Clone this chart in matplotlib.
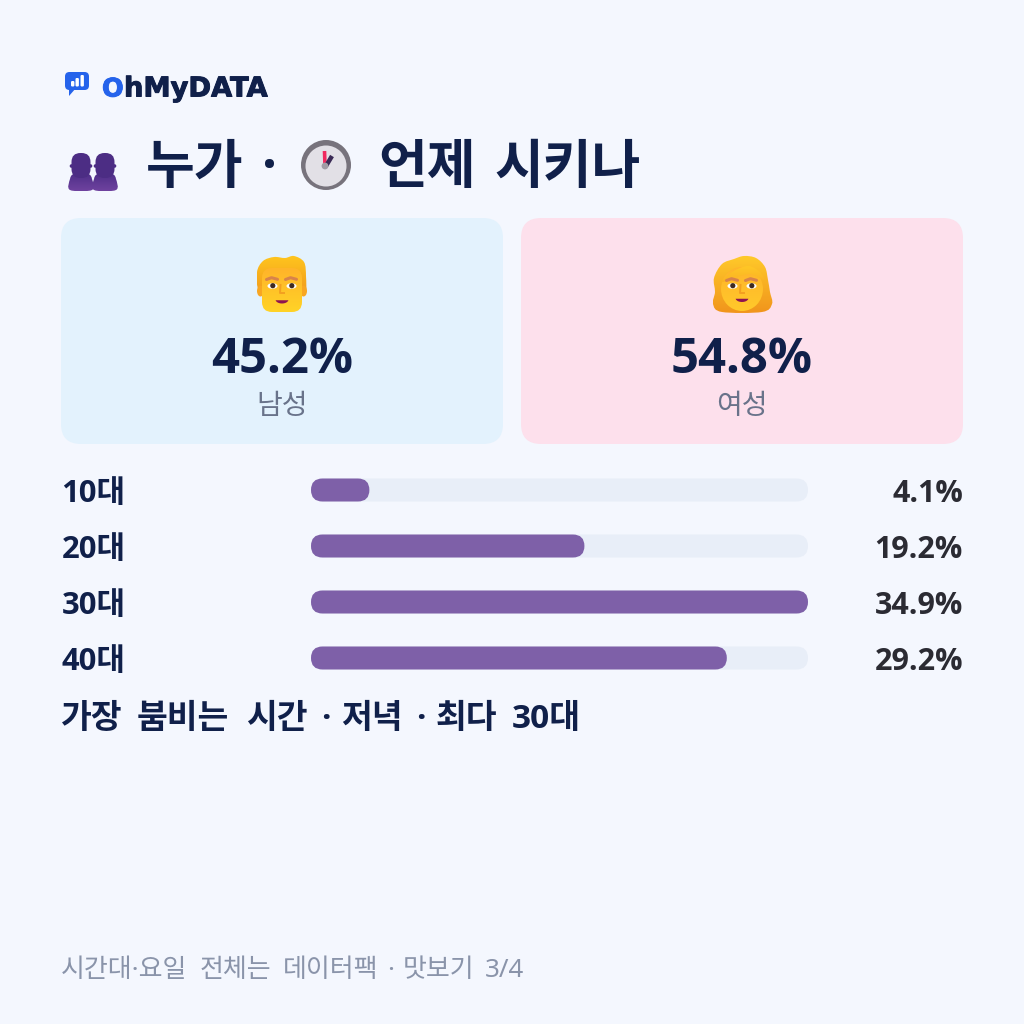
import numpy as np
import matplotlib
matplotlib.use("Agg")
import matplotlib.pyplot as plt
import matplotlib.patheffects as pe
from matplotlib.patches import FancyBboxPatch, Circle, Ellipse, Polygon, PathPatch
from matplotlib.path import Path

plain_family = ['Noto Sans', 'Noto Sans CJK KR', 'DejaVu Sans']
bold_family = ['Open Sans', 'Noto Sans CJK KR', 'DejaVu Sans']
plt.rcParams['font.family'] = plain_family

# Content
brand_accent = "O"
brand_rest = "hMyDATA"
title_words = ["누가", "·", "언제", "시키나"]
gender_labels = ["남성", "여성"]
gender_values = [45.2, 54.8]
age_labels = ["10대", "20대", "30대", "40대"]
age_values = [4.1, 19.2, 34.9, 29.2]
summary_words = ["가장", "붐비는", "시간", "·", "저녁", "·", "최다", "30대"]
footer_words = ["시간대·요일", "전체는", "데이터팩", "·", "맛보기", "3/4"]

# Word-by-word layout, since the heading font has wide word spacing
title_x = [146, 262, 378, 494]
summary_x = [61, 137, 246, 321, 341, 416, 436, 512]
footer_x = [61, 200, 283, 387, 403, 485]

NAVY = "#10204a"
BG = "#f4f7fe"
PX = 0.72  # points per pixel at dpi=100

fig = plt.figure(figsize=(10.24, 10.24), dpi=100, facecolor=BG)
ax = fig.add_axes([0, 0, 1, 1])
ax.set_xlim(0, 1024)
ax.set_ylim(1024, 0)
ax.axis("off")


def rounded(x, y, w, h, r, color, z=1):
    r = min(r, h / 2, w / 2)
    p = FancyBboxPatch((x + r, y + r), w - 2 * r, h - 2 * r,
                       boxstyle=f"round,pad={r},rounding_size={r}",
                       fc=color, ec="none", zorder=z)
    ax.add_patch(p)
    return p


def gradient_fill(patch, top, bottom, extent, z):
    # Vertical gradient clipped to a patch
    a = np.array(matplotlib.colors.to_rgb(top))
    b = np.array(matplotlib.colors.to_rgb(bottom))
    t = np.linspace(0, 1, 64)[:, None, None]
    img = a[None, None, :] * (1 - t) + b[None, None, :] * t
    im = ax.imshow(img, extent=extent, aspect="auto", zorder=z, interpolation="bilinear")
    patch.set(fc="none", ec="none", zorder=z)
    ax.add_patch(patch)
    im.set_clip_path(patch)
    ax.set_xlim(0, 1024)
    ax.set_ylim(1024, 0)


def blob(points, top, bottom, z):
    # Smooth closed outline through the given points
    pts = np.array(points, float)
    verts = [pts[0]]
    codes = [Path.MOVETO]
    n = len(pts)
    for i in range(n):
        p0, p1, p2, p3 = pts[i - 1], pts[i], pts[(i + 1) % n], pts[(i + 2) % n]
        verts += [p1 + (p2 - p0) / 6, p2 - (p3 - p1) / 6, p2]
        codes += [Path.CURVE4] * 3
    patch = PathPatch(Path(verts, codes))
    bb = patch.get_path().get_extents()
    gradient_fill(patch, top, bottom, (bb.x0, bb.x1, bb.y1, bb.y0), z)


def face_details(cx, eye_y, brow_y, mouth_y, eye_dx, z=8):
    # Eyes, brows, nose and mouth shared by both faces
    for side in (-1, 1):
        ex = cx + side * eye_dx
        ax.add_patch(Ellipse((ex, eye_y), 10, 5.5, fc="white", ec="none", zorder=z))
        ax.add_patch(Circle((ex + 0.3, eye_y - 0.3), 2.6, fc="#3d2a22", ec="none", zorder=z + 1))
        ax.plot([ex - 6, ex - 1, ex + 5], [brow_y + 1, brow_y - 0.8, brow_y + 0.8],
                color="#d8834a", lw=2.2, solid_capstyle="round", zorder=z)
    ax.plot([cx - 1.5, cx - 2, cx + 2], [eye_y - 1, eye_y + 7, eye_y + 7],
            color="#f3a020", lw=1.4, zorder=z)
    t = np.linspace(0.06 * np.pi, 0.94 * np.pi, 20)
    ax.fill(cx + 6.5 * np.cos(t), mouth_y - 1.5 + 4 * np.sin(t), color="#8e1450", lw=0, zorder=z)


def words(items, xs, y, **kw):
    for w, x in zip(items, xs):
        ax.text(x, y, w, va="baseline", **kw)


# Brand mark
rounded(65, 72, 24, 18, 4.5, "#2563eb", 3)
ax.add_patch(Polygon([[69, 88], [76, 88], [69, 96]], fc="#2563eb", ec="none", zorder=3))
for bx, bt in zip((71, 75.5, 80.5), (81, 78, 75)):
    rounded(bx, bt, 3.4, 86.5 - bt, 1.2, "white", 4)
logo_font = dict(family="DejaVu Sans", fontweight="bold", va="baseline")
heavy = lambda c: [pe.withStroke(linewidth=0.7, foreground=c)]
ax.text(102, 96.5, brand_accent, color="#2563eb", fontsize=25.5 * PX,
        path_effects=heavy("#2563eb"), **logo_font)
ax.text(124, 96.5, brand_rest, color=NAVY, fontsize=27.3 * PX, path_effects=heavy(NAVY), **logo_font)

# Heading: two-person icon, words and clock
for cx, z in ((81, 3), (105, 4)):
    blob([[cx - 11, 190], [cx - 11, 179], [cx - 7, 174], [cx + 7, 174], [cx + 11, 179], [cx + 11, 190]],
         "#4e2f88", "#6f429f", z)
    rounded(cx - 9.5, 153, 19, 25, 9, "#4c2d84", z + 0.5)
    ax.add_patch(Circle((cx - 9.5, 166), 1.8, fc="#4c2d84", ec="none", zorder=z))
    ax.add_patch(Circle((cx + 9.5, 166), 1.8, fc="#4c2d84", ec="none", zorder=z))
words(title_words, title_x, 183, color=NAVY, fontsize=53 * PX, fontweight="bold", family=bold_family)
ax.add_patch(Circle((326, 165), 25, fc="#77737c", ec="none", zorder=3))
ax.add_patch(Circle((326, 166), 20.5, fc="#e2e0e6", ec="none", zorder=4))
ax.plot([325, 324.5], [166, 151], color="#f0295e", lw=2.6, solid_capstyle="butt", zorder=5)
ax.plot([326, 332], [166, 156], color="#3a2a55", lw=3.2, solid_capstyle="butt", zorder=5)
ax.add_patch(Circle((325, 166), 3.4, fc="#a09ca5", ec="none", zorder=6))

# Gender cards
card_x = [61, 521]
card_colors = ["#e3f2fd", "#fde0ec"]
for x0, col, lab, val in zip(card_x, card_colors, gender_labels, gender_values):
    rounded(x0, 218, 442, 226, 20, col, 1)
    cx = x0 + 221
    ax.text(cx, 373, f"{val:.1f}%", color=NAVY, fontsize=49 * PX, fontweight="bold",
            family=bold_family, ha="center", va="baseline", zorder=3)
    ax.text(cx, 414, lab, color="#69738a", fontsize=28 * PX, ha="center", va="baseline", zorder=3)

# Man's face
c = 282
blob([[c - 23, 290], [c - 25, 272], [c - 19, 261], [c - 8, 257], [c + 3, 258], [c + 12, 256], [c + 22, 262],
      [c + 24, 276], [c + 23, 292], [c + 10, 280], [c - 10, 280]], "#ffc61e", "#f29c1c", 4)
ax.add_patch(Ellipse((c - 21.5, 291), 7, 11, fc="#f8a622", ec="none", zorder=4))
ax.add_patch(Ellipse((c + 21.5, 291), 7, 11, fc="#f8a622", ec="none", zorder=4))
p = FancyBboxPatch((c - 13, 275), 26, 30, boxstyle="round,pad=7,rounding_size=10")
gradient_fill(p, "#ffb42a", "#ffd326", (c - 20, c + 20, 312, 268), 5)
face_details(c, 286, 278.5, 301, 9.5)

# Woman's face
c = 742
blob([[c - 29, 304], [c - 27, 292], [c - 28, 278], [c - 20, 264], [c - 8, 259], [c + 2, 256], [c + 14, 258],
      [c + 23, 267], [c + 26, 280], [c + 28, 292], [c + 30, 304], [c + 20, 312], [c - 20, 312]],
     "#ffca2a", "#f1951c", 4)
p = Ellipse((c, 289), 42, 44)
gradient_fill(p, "#ffb42a", "#ffc92a", (c - 21, c + 21, 311, 267), 5)
blob([[c - 20, 282], [c - 10, 272], [c + 6, 266], [c + 18, 272], [c + 22, 280], [c + 8, 274], [c - 8, 278]],
     "#ffc926", "#fbb224", 6)
face_details(c, 286, 279.5, 299.5, 9.5)

# Age distribution bars, scaled so the largest value fills the track
track_left, track_width = 311, 497
row_y = [490, 546, 602, 658]
scale = track_width / max(age_values)
for lab, val, y in zip(age_labels, age_values, row_y):
    ax.text(61.5, y + 12, lab, color=NAVY, fontsize=31 * PX, fontweight="bold",
            family=bold_family, va="baseline")
    rounded(track_left, y - 11.5, track_width, 23, 11.5, "#e8eef8", 1)
    rounded(track_left, y - 11.5, val * scale, 23, 11.5, "#7e60a8", 2)
    ax.text(963, y + 12.5, f"{val:.1f}%", color="#2b2b33", fontsize=30.5 * PX, fontweight="bold",
            family=bold_family, ha="right", va="baseline")

words(summary_words, summary_x, 728, color=NAVY, fontsize=33.5 * PX, fontweight="bold", family=bold_family)
words(footer_words, footer_x, 977, color="#8a94aa", fontsize=26 * PX)

fig.savefig("out.png", dpi=100, facecolor=BG)
